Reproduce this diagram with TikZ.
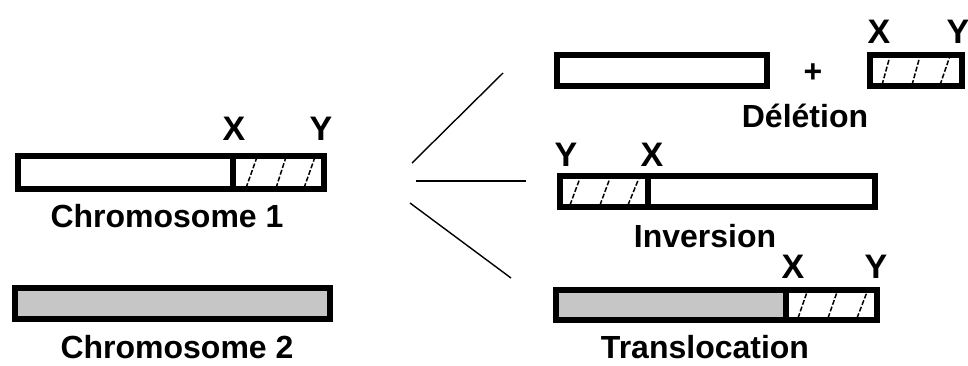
\documentclass[tikz,border=0pt]{standalone}
\usepackage{fontspec}
\setmainfont{Liberation Sans}
\begin{document}
\begin{tikzpicture}[x=1pt,y=-1pt,
  chrom/.style={draw=black,line width=5.5pt,rectangle,inner sep=0pt,minimum height=#1},
  chrom/.default=31pt,
  divider/.style={line width=5.5pt},
  hatch/.style={line width=1.5pt,dash pattern=on 5pt off 2pt},
  lbl/.style={inner sep=0pt,font=\fontsize{32}{38}\selectfont\bfseries,text height=23pt,text depth=0pt},
  xylbl/.style={inner sep=0pt,font=\fontsize{34}{40}\selectfont\bfseries,text height=24pt,text depth=0pt},
  conn/.style={line width=1.4pt}]
\useasboundingbox (0,0) rectangle (968,365);
\fill[white] (0,0) rectangle (968,365);
\definecolor{chromgray}{RGB}{198,198,198}
% Chromosome 1
\node[chrom=33pt,minimum width=306pt] (c1) at (171,172.5) {};
\draw[divider] (233,156) -- (233,189);
\draw[hatch] (246,188) -- (257,157);
\draw[hatch] (276,188) -- (286,157);
\draw[hatch] (304,188) -- (315,157);
\node[xylbl] (c1x) at (234,128) {X};
\node[xylbl] (c1y) at (321,128) {Y};
\node[lbl] (c1l) at (167,216) {Chromosome 1};
% Chromosome 2
\node[chrom,minimum width=315pt,fill=chromgray] (c2) at (172.5,303.5) {};
\node[lbl] (c2l) at (177,347) {Chromosome 2};
% connectors
\coordinate (a1) at (412,163); \coordinate (b1) at (503,73);
\coordinate (a2) at (416,181); \coordinate (b2) at (526,181);
\coordinate (a3) at (410,203); \coordinate (b3) at (511,278);
\draw[conn] (a1) -- (b1);
\draw[conn] (a2) -- (b2);
\draw[conn] (a3) -- (b3);
% Deletion
\node[chrom,minimum width=210pt] (d1) at (662,70.5) {};
\node[lbl] (plus) at (813,71) {+};
\node[chrom,minimum width=92pt] (d2) at (916,70.5) {};
\draw[hatch] (882,85) -- (890,56);
\draw[hatch] (912,85) -- (920,56);
\draw[hatch] (940,85) -- (950,56);
\node[xylbl] (dx) at (879,31) {X};
\node[xylbl] (dy) at (958,31) {Y};
\node[lbl] (dl) at (805,116) {Délétion};
% Inversion
\node[chrom,minimum width=315pt] (inv) at (717.5,191.5) {};
\draw[divider] (648,176) -- (648,207);
\draw[hatch] (570,205) -- (580,178);
\draw[hatch] (600,205) -- (610,178);
\draw[hatch] (628,205) -- (639,178);
\node[xylbl] (iy) at (566,154) {Y};
\node[xylbl] (ix) at (652,154) {X};
\node[lbl] (il) at (705,236) {Inversion};
% Translocation
\fill[chromgray] (556,290) rectangle (786,320);
\node[chrom=30pt,minimum width=321pt] (tr) at (716.5,305) {};
\draw[divider] (786,290) -- (786,320);
\draw[hatch] (798,318) -- (807,292);
\draw[hatch] (828,318) -- (837,292);
\draw[hatch] (857,318) -- (867,292);
\node[xylbl] (tx) at (793,266) {X};
\node[xylbl] (ty) at (876,266) {Y};
\node[lbl] (tl) at (705,347) {Translocation};
\end{tikzpicture}
\end{document}
